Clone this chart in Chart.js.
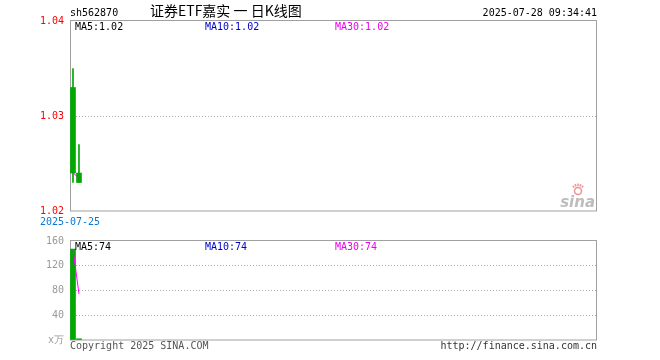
<!DOCTYPE html>
<html>
<head>
<meta charset="utf-8">
<script src="https://cdn.jsdelivr.net/npm/chart.js@4.4.0/dist/chart.umd.min.js"></script>
<style>
html,body{margin:0;padding:0;background:#fff;}
#wrap{position:relative;width:660px;height:360px;}
canvas{position:absolute;left:0;top:0;}
</style>
</head>
<body>
<div id="wrap">
<canvas id="price" width="660" height="360"></canvas>
<canvas id="vol" width="660" height="360"></canvas>
</div>
<script>
// ---- data ----
const slotCount = 88;
const dates = ['2025-07-25', '2025-07-28'];
const opens = [1.033, 1.024];
const highs = [1.035, 1.027];
const lows = [1.023, 1.023];
const closes = [1.024, 1.023];
const volumes = [147, 2];          // x万
const priceTicks = [1.02, 1.03, 1.04];
const volTicks = [0, 40, 80, 120, 160];
const stockCode = 'sh562870';
const titleText = '证券ETF嘉实 一 日K线图';
const stampText = '2025-07-28 09:34:41';
const copyText = 'Copyright 2025 SINA.COM';
const urlText = 'http://finance.sina.com.cn';

// ---- derived ----
const labels = [];
for (let i = 0; i < slotCount; i++) labels.push(i < dates.length ? dates[i] : '');
function ma(arr, n) {
  return arr.map((v, i) => {
    const s = arr.slice(Math.max(0, i - n + 1), i + 1);
    return s.reduce((a, b) => a + b, 0) / s.length;
  });
}
const UP = '#ff0000', DOWN = '#00a800';
const candleColors = opens.map((o, i) => closes[i] > o ? UP : DOWN);
const pMA5 = ma(closes, 5), pMA10 = ma(closes, 10), pMA30 = ma(closes, 30);
const vMA5 = ma(volumes, 5), vMA10 = ma(volumes, 10), vMA30 = ma(volumes, 30);
const MONO = '"DejaVu Sans Mono", "Liberation Mono", monospace';
const FRAME = '#a0a0a0';

const framePlugin = {
  id: 'frame',
  beforeDatasetsDraw(chart) {
    const { ctx, chartArea: a } = chart;
    ctx.save();
    ctx.strokeStyle = FRAME;
    ctx.lineWidth = 1;
    ctx.strokeRect(a.left + 0.5, a.top - 0.5, a.width - 1, a.height + 0.5);
    ctx.restore();
  }
};

function maLabels(ctx, a, vals, fmt) {
  ctx.save();
  ctx.font = '10px ' + MONO;
  ctx.textBaseline = 'middle';
  ctx.textAlign = 'left';
  const y = a.top + 6;
  ctx.fillStyle = '#000000'; ctx.fillText('MA5:' + fmt(vals[0]), a.left + 5, y);
  ctx.fillStyle = '#0000cc'; ctx.fillText('MA10:' + fmt(vals[1]), a.left + 135, y);
  ctx.fillStyle = '#ee00ee'; ctx.fillText('MA30:' + fmt(vals[2]), a.left + 265, y);
  ctx.restore();
}

const pricePlugin = {
  id: 'priceText',
  afterDraw(chart) {
    const { ctx, chartArea: a } = chart;
    const last = closes.length - 1;
    maLabels(ctx, a, [pMA5[last], pMA10[last], pMA30[last]], v => v.toFixed(2));
    ctx.save();
    ctx.textBaseline = 'middle';
    ctx.font = '10px ' + MONO;
    ctx.fillStyle = '#000';
    ctx.textAlign = 'left';
    ctx.fillText(stockCode, a.left, 13);
    ctx.textAlign = 'right';
    ctx.fillText(stampText, a.right, 13);
    ctx.font = '14px "Noto Sans CJK SC", sans-serif';
    ctx.textAlign = 'left';
    ctx.fillText(titleText, 150, 11);
    // sina mark
    ctx.font = 'italic bold 15px "DejaVu Sans", sans-serif';
    ctx.fillStyle = '#bdbdbd';
    ctx.textAlign = 'right';
    ctx.textBaseline = 'alphabetic';
    ctx.fillText('sina', a.right - 2, a.bottom - 4);
    ctx.strokeStyle = '#f29090';
    ctx.lineWidth = 1.5;
    ctx.beginPath();
    ctx.arc(a.right - 19, a.bottom - 20, 3.5, 0, Math.PI * 2);
    ctx.stroke();
    ctx.beginPath();
    for (let k = -2; k <= 2; k++) {
      const ang = -Math.PI / 2 + k * 0.4;
      ctx.moveTo(a.right - 19 + Math.cos(ang) * 5, a.bottom - 20 + Math.sin(ang) * 5);
      ctx.lineTo(a.right - 19 + Math.cos(ang) * 7.5, a.bottom - 20 + Math.sin(ang) * 7.5);
    }
    ctx.stroke();
    ctx.restore();
  }
};

const volPlugin = {
  id: 'volText',
  afterDraw(chart) {
    const { ctx, chartArea: a } = chart;
    const last = volumes.length - 1;
    maLabels(ctx, a, [vMA5[last], vMA10[last], vMA30[last]], v => String(Math.floor(v)));
    ctx.save();
    ctx.font = '10px ' + MONO;
    ctx.textBaseline = 'middle';
    ctx.fillStyle = '#555';
    ctx.textAlign = 'left';
    ctx.fillText(copyText, a.left, 346);
    ctx.fillStyle = '#333';
    ctx.textAlign = 'right';
    ctx.fillText(urlText, a.right, 346);
    ctx.restore();
  }
};

Chart.defaults.animation = false;
Chart.defaults.font.family = MONO;
Chart.defaults.font.size = 10;

function innerGrid(ctx) {
  return (ctx.index === 0 || ctx.index === ctx.chart.scales.y.ticks.length - 1) ? 'rgba(0,0,0,0)' : '#aaaaaa';
}

new Chart(document.getElementById('price'), {
  type: 'bar',
  data: {
    labels,
    datasets: [
      { type: 'line', label: 'MA30', data: pMA30, borderColor: '#ff00ff', borderWidth: 1, pointRadius: 0, order: 1 },
      { label: 'wick', data: lows.map((l, i) => [l, highs[i]]), backgroundColor: candleColors,
        barThickness: 1, grouped: false, order: 5 },
      { label: 'body', data: opens.map((o, i) => [o, closes[i]]), backgroundColor: candleColors,
        barThickness: 5, grouped: false, order: 4 }
    ]
  },
  options: {
    responsive: false,
    layout: { padding: { left: 0, right: 63, top: 21, bottom: 134 } },
    plugins: { legend: { display: false }, tooltip: { enabled: false } },
    scales: {
      x: {
        type: 'category',
        offset: true,
        grid: { display: false, drawTicks: false },
        border: { display: false },
        afterFit(s) { s.height = 15; },
        ticks: {
          autoSkip: false, maxRotation: 0, padding: 5, color: '#0a78d2', labelOffset: -3,
          callback(v, i) { return i === 0 ? labels[0] : ''; }
        }
      },
      y: {
        min: priceTicks[0], max: priceTicks[priceTicks.length - 1],
        afterFit(s) { s.width = 70; },
        afterBuildTicks(s) { s.ticks = priceTicks.map(v => ({ value: v })); },
        border: { display: false, dash: [1, 2] },
        grid: { color: innerGrid, drawTicks: false, lineWidth: 1 },
        ticks: { color: '#ff0000', padding: 6, callback: v => Number(v).toFixed(2) }
      }
    }
  },
  plugins: [framePlugin, pricePlugin]
});

new Chart(document.getElementById('vol'), {
  type: 'bar',
  data: {
    labels,
    datasets: [
      { type: 'line', label: 'MA30', data: vMA30, borderColor: '#ff00ff', borderWidth: 1, pointRadius: 0, order: 1 },
      { label: 'vol', data: volumes, backgroundColor: candleColors, barThickness: 5, order: 4 }
    ]
  },
  options: {
    responsive: false,
    layout: { padding: { left: 0, right: 63, top: 241, bottom: 20 } },
    plugins: { legend: { display: false }, tooltip: { enabled: false } },
    scales: {
      x: { type: 'category', offset: true, display: false },
      y: {
        min: volTicks[0], max: volTicks[volTicks.length - 1],
        afterFit(s) { s.width = 70; },
        afterBuildTicks(s) { s.ticks = volTicks.map(v => ({ value: v })); },
        border: { display: false, dash: [1, 2] },
        grid: { color: innerGrid, drawTicks: false, lineWidth: 1 },
        ticks: { color: '#999999', padding: 6, callback: v => (v === 0 ? 'x万' : String(v)) }
      }
    }
  },
  plugins: [framePlugin, volPlugin]
});
</script>
</body>
</html>
